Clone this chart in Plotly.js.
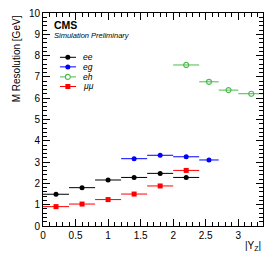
<!DOCTYPE html>
<html><head><meta charset="utf-8">
<script src="https://cdn.plot.ly/plotly-3.0.1.min.js"></script>
<style>html,body{margin:0;padding:0;background:#fff}#c{width:270px;height:260px}</style>
</head><body><div id="c"></div>
<script>
// data
const eeLo = [0.0, 0.4, 0.8, 1.2, 1.6, 2.0];
const eeHi = [0.4, 0.8, 1.2, 1.6, 2.0, 2.4];
const eeY  = [1.49, 1.80, 2.16, 2.28, 2.47, 2.28];
const egLo = [1.2, 1.6, 2.0, 2.4];
const egHi = [1.6, 2.0, 2.4, 2.7];
const egY  = [3.16, 3.32, 3.25, 3.10];
const ehLo = [2.0, 2.4, 2.7, 3.0];
const ehHi = [2.4, 2.7, 3.0, 3.4];
const ehY  = [7.56, 6.77, 6.38, 6.21];
const mmLo = [0.0, 0.4, 0.8, 1.2, 1.6, 2.0];
const mmHi = [0.4, 0.8, 1.2, 1.6, 2.0, 2.4];
const mmY  = [0.91, 1.03, 1.24, 1.50, 1.88, 2.61];
const seriesNames = ['ee', 'eg', 'eh', 'μμ'];
const xTickVals = [0, 0.5, 1, 1.5, 2, 2.5, 3];
const xTickText = ['0', '0.5', '1', '1.5', '2', '2.5', '3'];
const yTickVals = [0,1,2,3,4,5,6,7,8,9,10];

const colors = ['#000000', '#0000ff', '#4cbb4c', '#ff0000'];
const symbols = ['circle', 'circle', 'circle-open', 'square'];

function mk(lo, hi, y, i) {
  const x = lo.map((l, k) => (l + hi[k]) / 2);
  const err = lo.map((l, k) => (hi[k] - l) / 2);
  return {
    x: x, y: y, type: 'scatter', mode: 'markers', name: seriesNames[i], showlegend: false,
    marker: {color: colors[i], symbol: symbols[i], size: 5, line: {width: i === 2 ? 1.2 : 0, color: colors[i]}},
    error_x: {type: 'data', array: err, visible: true, width: 0, thickness: 1, color: colors[i]}
  };
}
const traces = [mk(eeLo, eeHi, eeY, 0), mk(egLo, egHi, egY, 1), mk(ehLo, ehHi, ehY, 2), mk(mmLo, mmHi, mmY, 3)];

// manual legend (paper coordinates)
const shapes = [];
const annotations = [];
const FONT = 'Liberation Sans, Arial, sans-serif';
const legX0 = 0.077, legX1 = 0.150, legXm = 0.113, legTx = 0.178;
const legY = [0.792, 0.747, 0.700, 0.655];
const pw = 219.7, ph = 213;
seriesNames.forEach((n, i) => {
  shapes.push({type: 'line', xref: 'paper', yref: 'paper', x0: legX0, x1: legX1, y0: legY[i], y1: legY[i], line: {color: colors[i], width: 1}});
  const rx = 2.5 / pw, ry = 2.5 / ph;
  if (symbols[i] === 'square') {
    shapes.push({type: 'rect', xref: 'paper', yref: 'paper', x0: legXm - rx, x1: legXm + rx, y0: legY[i] - ry, y1: legY[i] + ry, fillcolor: colors[i], line: {width: 0}});
  } else {
    shapes.push({type: 'circle', xref: 'paper', yref: 'paper', x0: legXm - rx, x1: legXm + rx, y0: legY[i] - ry, y1: legY[i] + ry,
      fillcolor: symbols[i] === 'circle-open' ? '#ffffff' : colors[i], line: {width: symbols[i] === 'circle-open' ? 1.1 : 0, color: colors[i]}});
  }
  annotations.push({xref: 'paper', yref: 'paper', x: legTx, y: legY[i], xanchor: 'left', yanchor: 'middle', showarrow: false,
    borderpad: 0, text: '<i>' + n + '</i>', font: {family: FONT, size: 8.5, color: '#000'}});
});
annotations.push({xref: 'paper', yref: 'paper', x: 0.045, y: 0.943, xanchor: 'left', yanchor: 'middle', showarrow: false,
  borderpad: 0, text: '<b>CMS</b>', font: {family: FONT, size: 10.5, color: '#000'}});
annotations.push({xref: 'paper', yref: 'paper', x: 0.045, y: 0.895, xanchor: 'left', yanchor: 'middle', showarrow: false,
  borderpad: 0, text: '<i>Simulation Preliminary</i>', font: {family: FONT, size: 7.5, color: '#000'}});
annotations.push({xref: 'paper', yref: 'paper', x: 1.0, y: -0.055, xanchor: 'right', yanchor: 'top', showarrow: false,
  text: '|Y<sub>Z</sub>|', font: {family: FONT, size: 10, color: '#000'}});
annotations.push({xref: 'paper', yref: 'paper', x: -0.085, y: 1.0, xanchor: 'right', yanchor: 'top', showarrow: false, textangle: -90,
  text: 'M Resolution [GeV]', font: {family: FONT, size: 10, color: '#000'}});

const layout = {
  width: 270, height: 260,
  margin: {l: 43, r: 7, t: 13, b: 34},
  paper_bgcolor: '#fff', plot_bgcolor: '#fff',
  font: {family: FONT, size: 10, color: '#000'},
  showlegend: false,
  xaxis: {range: [0, 3.38], tickvals: xTickVals, ticktext: xTickText, ticks: 'inside', ticklen: 7, tickwidth: 1, tickcolor: '#000',
    showline: true, linecolor: '#000', linewidth: 1, mirror: 'ticks', showgrid: false, zeroline: false,
    minor: {dtick: 0.1, tick0: 0, ticks: 'inside', ticklen: 4, tickcolor: '#000', showgrid: false}},
  yaxis: {range: [0, 10], tickvals: yTickVals, ticks: 'inside', ticklen: 7, tickwidth: 1, tickcolor: '#000',
    showline: true, linecolor: '#000', linewidth: 1, mirror: 'ticks', showgrid: false, zeroline: false,
    minor: {dtick: 0.2, tick0: 0, ticks: 'inside', ticklen: 4, tickcolor: '#000', showgrid: false}},
  shapes: shapes, annotations: annotations
};
Plotly.newPlot('c', traces, layout, {displayModeBar: false, staticPlot: true});
</script></body></html>
